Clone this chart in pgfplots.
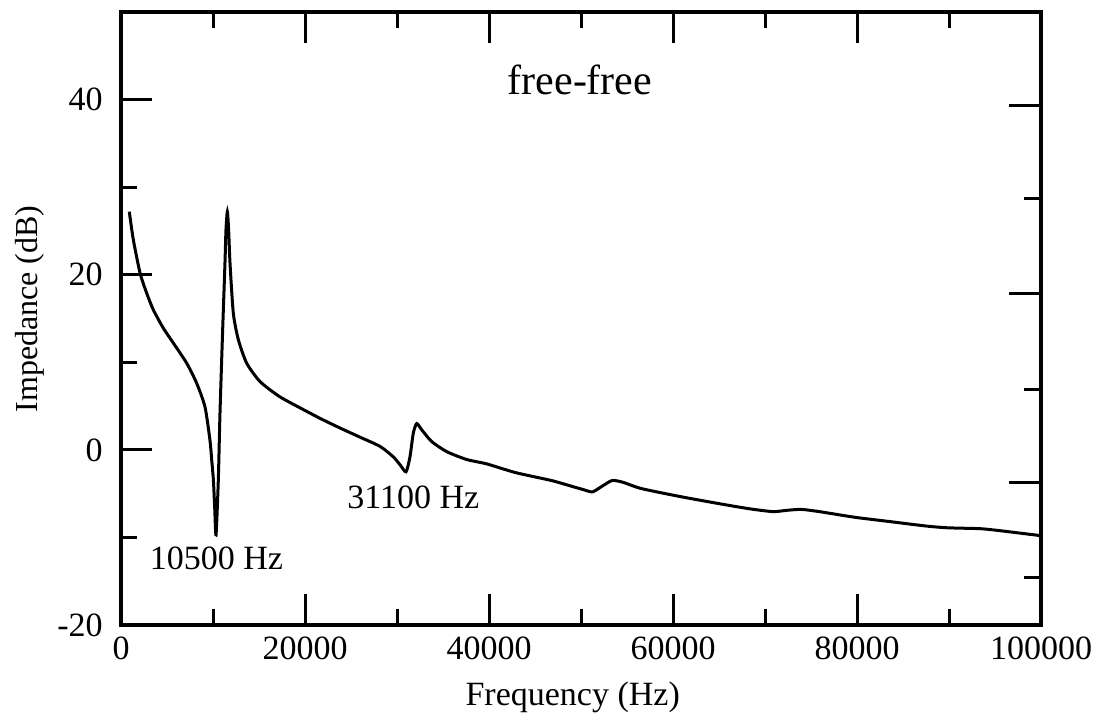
\documentclass[border=0pt]{standalone}
\usepackage{fontspec}
\setmainfont{Liberation Serif}
\usepackage{pgfplots}
\pgfplotsset{compat=1.18}
\begin{document}
\begin{tikzpicture}
\path[use as bounding box] (-60.5pt,-47.5pt) rectangle (488.5pt,312.5pt);
\begin{axis}[
  at={(0,0)}, anchor=south west,
  scale only axis, width=460pt, height=306.5pt,
  xmin=0, xmax=100000, ymin=-20, ymax=50,
  axis line style={line width=1.6pt},
  every tick/.style={black, line width=1.5pt},
  major tick length=15.5pt, minor tick length=8pt,
  tick align=inside,
  scaled x ticks=false, scaled y ticks=false,
  xtick={0,20000,40000,60000,80000,100000},
  xticklabels={0,20000,40000,60000,80000,100000},
  minor xtick={10000,30000,50000,70000,90000},
  xtick pos=both,
  ytick={-20,0,20,40},
  yticklabels={-20,0,20,40},
  minor ytick={-10,10,30},
  ytick pos=left,
  tick label style={font=\fontsize{17}{20}\selectfont, inner sep=0pt},
  xticklabel shift=5.5pt,
  yticklabel shift=9pt,
  xlabel={Frequency (Hz)},
  ylabel={Impedance (dB)},
  every axis x label/.style={at={(axis description cs:0.491,-0.1305)}, anchor=base, font=\fontsize{17}{20}\selectfont},
  every axis y label/.style={at={(axis description cs:-0.0913,0.5155)}, anchor=base, rotate=90, font=\fontsize{16}{19}\selectfont},
]
\addplot[black, line width=1.5pt, smooth, tension=0.4] coordinates {
(900,27.2) (1340,24.0) (2070,20.2) (2790,17.9) (3510,16.0) (4600,13.9)
(5690,12.2) (7140,9.9) (8230,7.6) (9130,4.9) (9670,1.1) (9855,-1.1)
(10040,-3.4) (10180,-6.5) (10330,-9.7) (10580,-3.4) (10760,4.2) (11050,13.7)
(11300,21.3) (11410,25.1) (11560,27.2) (11700,25.1) (11850,21.3) (12210,15.6)
(12750,12.6) (13660,9.9) (15110,7.8) (17210,6.1) (19460,4.8) (21630,3.6)
(23800,2.5) (25980,1.45) (28150,0.4) (29600,-0.8) (30330,-1.7) (30980,-2.5)
(31410,-0.8) (31770,1.9) (32140,3.0) (32680,2.3) (33770,0.95) (35400,-0.2)
(37570,-1.1) (39750,-1.6) (42900,-2.6) (46790,-3.5) (49120,-4.2) (50300,-4.55)
(51250,-4.8) (52220,-4.2) (53380,-3.5) (54550,-3.7) (56490,-4.4) (60370,-5.25)
(64250,-6.0) (68130,-6.7) (70850,-7.05) (72400,-6.9) (73960,-6.8) (75900,-7.05)
(79780,-7.7) (83660,-8.2) (87540,-8.7) (89880,-8.9) (93370,-9.0) (95310,-9.2)
(100000,-9.8)
};
\node[anchor=base, font=\fontsize{21}{25}\selectfont] at (axis cs:49890,40.54) {free-free};
\node[anchor=base, font=\fontsize{17}{20}\selectfont] at (axis cs:10380,-13.7) {10500 Hz};
\node[anchor=base, font=\fontsize{17}{20}\selectfont] at (axis cs:31770,-6.66) {31100 Hz};
\end{axis}
\begin{axis}[
  at={(0,0)}, anchor=south west,
  scale only axis, width=460pt, height=306.5pt,
  xmin=0, xmax=100000, ymin=-20, ymax=50,
  axis line style={draw=none},
  every tick/.style={black, line width=1.5pt},
  major tick length=16pt, minor tick length=8.5pt,
  tick align=inside,
  xtick=\empty,
  ytick pos=right,
  ytick={39.38,17.80,-3.78},
  minor ytick={28.65,6.95,-14.63},
  yticklabels={{},{},{}},
]
\end{axis}
\end{tikzpicture}
\end{document}
